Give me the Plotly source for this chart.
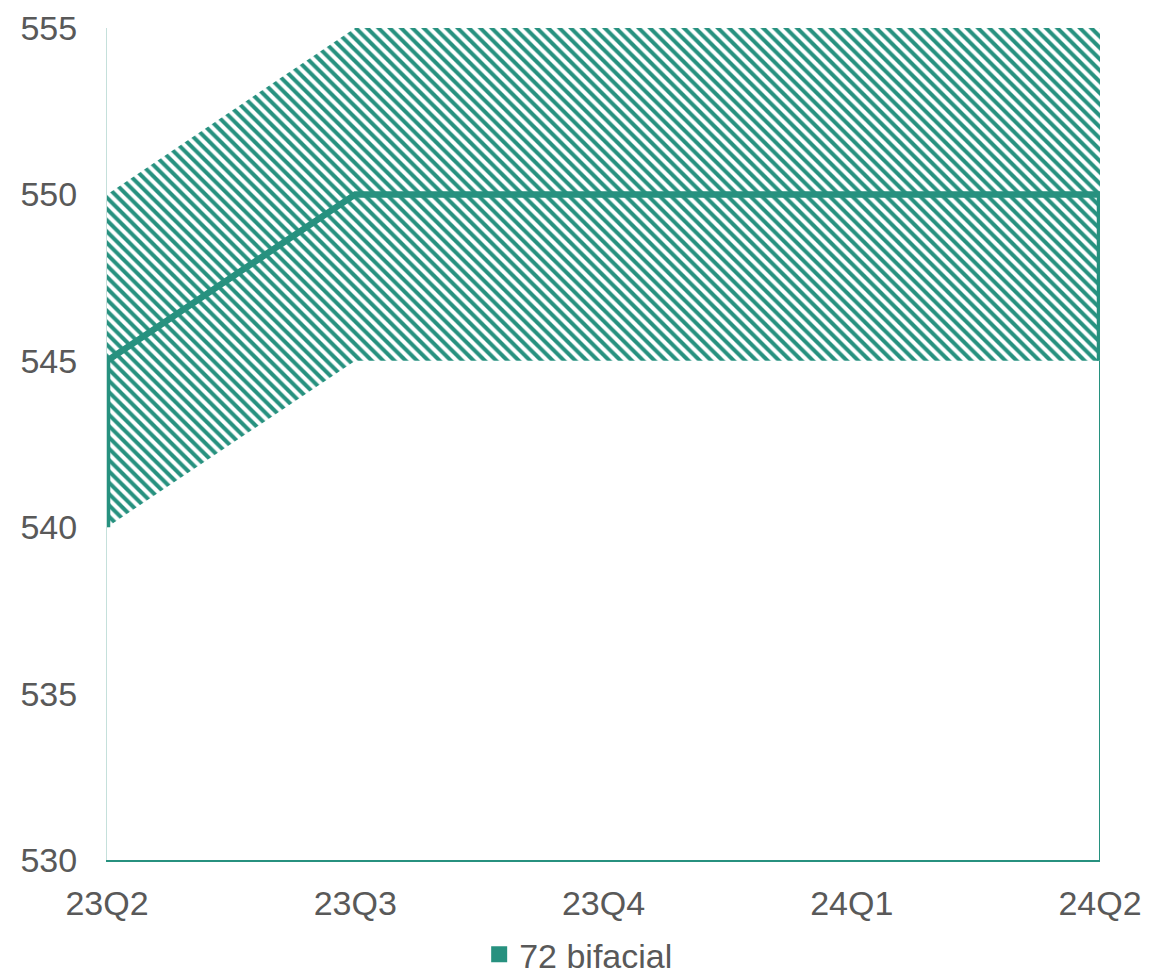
import plotly.graph_objects as go

categories = ["23Q2", "23Q3", "23Q4", "24Q1", "24Q2"]
lower = [540, 545, 545, 545, 545]
mid = [545, 550, 550, 550, 550]
upper = [550, 555, 555, 555, 555]
y_ticks = [530, 535, 540, 545, 550, 555]
series_name = "72 bifacial"

teal = "#27917F"
grey = "#595959"
font_family = "Liberation Sans, Arial, sans-serif"
fs = 34

fig = go.Figure()

# white base area up to the lower bound
fig.add_trace(go.Scatter(
    x=categories, y=lower, mode="lines", fill="tozeroy",
    fillcolor="white", line=dict(width=0, color="white"),
    showlegend=False, hoverinfo="skip"))

# hatched band between lower and upper
fig.add_trace(go.Scatter(
    x=categories, y=lower, mode="lines", line=dict(width=0, color=teal),
    showlegend=False, hoverinfo="skip"))
fig.add_trace(go.Scatter(
    x=categories, y=upper, mode="lines", fill="tonexty",
    fillcolor="white",
    fillpattern=dict(shape="\\", fgcolor=teal, bgcolor="white", size=8,
                     solidity=0.5, fgopacity=1),
    line=dict(width=0, color=teal),
    name=series_name, showlegend=False, hoverinfo="skip"))

# thin outline of base area on right edge
fig.add_trace(go.Scatter(
    x=[categories[-1], categories[-1]], y=[y_ticks[0], lower[-1]],
    mode="lines", line=dict(width=2, color=teal),
    showlegend=False, hoverinfo="skip"))

# thick middle outline
fig.add_trace(go.Scatter(
    x=[categories[0]] + categories + [categories[-1]],
    y=[lower[0]] + mid + [lower[-1]],
    mode="lines", line=dict(width=6.5, color=teal),
    showlegend=False, hoverinfo="skip"))

# legend entry
fig.add_trace(go.Scatter(
    x=[None], y=[None], mode="markers", name=series_name,
    marker=dict(symbol="square", size=22, color=teal),
    showlegend=True))

fig.update_layout(
    width=1150, height=980,
    margin=dict(l=99, r=58, t=20, b=128, autoexpand=False),
    plot_bgcolor="white", paper_bgcolor="white",
    font=dict(family=font_family, size=fs, color=grey),
    showlegend=True,
    legend=dict(orientation="h", x=0.475, xanchor="center",
                yref="container", y=0.034, yanchor="middle",
                font=dict(size=fs, color=grey), itemwidth=30),
    xaxis=dict(type="category", range=[0, 4], showgrid=False, zeroline=False,
               showline=True, linecolor=teal, linewidth=2, automargin=False,
               ticks="outside", ticklen=12, tickcolor="white",
               tickfont=dict(size=fs, color=grey)),
    yaxis=dict(range=[530, 555], tickvals=y_ticks, showgrid=False, zeroline=False,
               showline=True, linecolor="#C5E0DB", linewidth=1, automargin=False,
               ticks="outside", ticklen=22, tickcolor="white",
               tickfont=dict(size=fs, color=grey)),
)

fig.write_html("out.html")
